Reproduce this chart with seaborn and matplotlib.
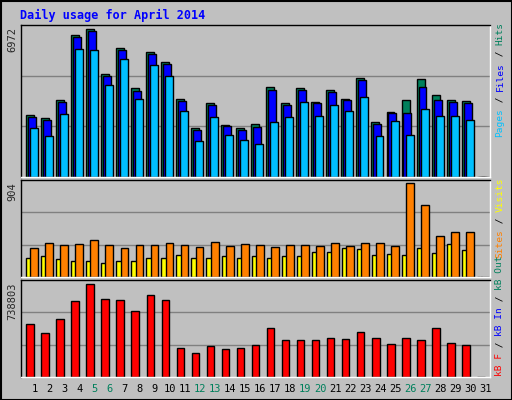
import matplotlib
matplotlib.use("Agg")
import matplotlib.pyplot as plt
import seaborn as sns
import pandas as pd
import numpy as np

days = list(range(1, 32))
hits = [2865,2727,3524,6512,6772,4704,5899,4060,5715,5255,3600,2237,3417,2405,2268,2451,4106,3417,4060,3463,3968,3600,4520,2543,3003,3554,4474,3784,3554,3508,0]
files = [2774,2635,3463,6404,6680,4612,5807,3938,5623,5163,3508,2176,3325,2359,2176,2313,3968,3325,3968,3417,3876,3554,4428,2451,2957,2957,4106,3554,3463,3417,0]
pages = [2268,1900,2911,5853,5807,4198,5393,3600,5117,4612,3049,1670,2773,1946,1716,1532,2543,2773,3463,2819,3325,3049,3692,1900,2589,1946,3141,2819,2819,2635,0]
visits = [187,200,168,158,158,139,149,149,178,187,207,178,187,197,187,197,187,197,197,236,236,275,265,207,216,207,275,226,313,255,0]
sites = [275,323,304,313,352,304,275,304,304,323,304,284,333,294,313,304,284,304,304,294,323,294,323,323,294,904,691,391,430,430,0]
kbf = [423000,350000,456000,601000,738803,617000,609000,520000,650000,609000,229000,189000,245000,221000,229000,253000,391000,294000,294000,294000,310000,302000,359000,310000,262000,310000,294000,391000,270000,253000,0]
weekend = [5,6,12,13,19,20,26,27]

sns.set_style("white")
plt.rcParams['font.family'] = ['DejaVu Sans Mono']
BG = "#C0C0C0"
fig = plt.figure(figsize=(5.12, 4.0), dpi=100, facecolor=BG)
W, H = 512, 400

def ax_px(x0, y0, x1, y1):
    return fig.add_axes([x0 / W, 1 - y1 / H, (x1 - x0) / W, (y1 - y0) / H])

axT = ax_px(21, 25, 490, 177)
axM = ax_px(21, 180, 490, 277)
axB = ax_px(21, 280, 490, 377)

x = np.arange(31)
ek = dict(edgecolor="black", linewidth=1)
axT.bar(x - 0.02, hits, width=0.53, color="#00805C", **ek)
axT.bar(x + 0.11, files, width=0.53, color="#0000FF", **ek)
axT.bar(x + 0.25, pages, width=0.53, color="#00C0FF", **ek)
axT.set_ylim(0, 6972)

axM.bar(x - 0.08, visits, width=0.36, color="#FFFF00", **ek)
axM.bar(x + 0.28, sites, width=0.52, color="#FF8000", **ek)
axM.set_ylim(0, 904 * 1.03)

df = pd.DataFrame({"day": x, "kB F": kbf})
sns.barplot(data=df, x="day", y="kB F", ax=axB, color="#FF0000", width=0.5,
            edgecolor="black", linewidth=1, saturation=1, native_scale=True)
axB.set_ylim(0, 738803 * 1.04)

for ax, top in [(axT, 6972), (axM, 904 * 1.03), (axB, 738803 * 1.04)]:
    ax.set_facecolor(BG)
    ax.set_xlim(-0.6, 30.6)
    for f in (1/3, 2/3):
        ax.axhline(top * f, color="#808080", lw=1, zorder=0)
    ax.set_xticks([]); ax.set_yticks([])
    ax.set_xlabel(""); ax.set_ylabel("")
    for s in ax.spines.values():
        s.set_color("black"); s.set_linewidth(1)
    ax.spines["right"].set_color("white"); ax.spines["bottom"].set_color("white")

fig.text(20 / W, 1 - 15 / H, "Daily usage for April 2014", color="#0000FF",
         fontsize=8.5, fontweight="bold", va="center", ha="left")
for lbl, yt in [("6972", 27), ("904", 182), ("738803", 283)]:
    fig.text(12 / W, 1 - yt / H, lbl, rotation=90, fontsize=7.5, ha="center", va="top")

for d in days:
    xpx = 21 + (d - 1 + 0.6 + 0.3) * (469 / 31.2)
    fig.text(xpx / W, 1 - 389 / H, str(d), fontsize=7.5, ha="center", va="center",
             color="#00805C" if d in weekend else "black")

fig.canvas.draw()
r = fig.canvas.get_renderer()
def stack(pieces, xpx, ybot):
    y = ybot
    for txt, col in pieces:
        t = fig.text(xpx / W, 1 - y / H, txt, rotation=90, color=col, fontsize=6.8,
                     ha="center", va="bottom")
        bb = t.get_window_extent(r)
        y -= bb.height
stack([("Pages", "#00C0FF"), (" / ", "black"), ("Files", "#0000FF"), (" / ", "black"), ("Hits", "#00805C")], 500, 137)
stack([("Sites", "#FF8000"), (" / ", "black"), ("Visits", "#FFFF00")], 500, 258)
stack([("kB F", "#FF0000"), (" / ", "black"), ("kB In", "#0000FF"), (" / ", "black"), ("kB Out", "#00805C")], 500, 376)

fig.patches.append(plt.Rectangle((0.5 / W, 0.5 / H), 1 - 1 / W, 1 - 1 / H, transform=fig.transFigure,
                                 fill=False, edgecolor="black", lw=1.5))
fig.savefig("out.png", dpi=100, facecolor=BG)
